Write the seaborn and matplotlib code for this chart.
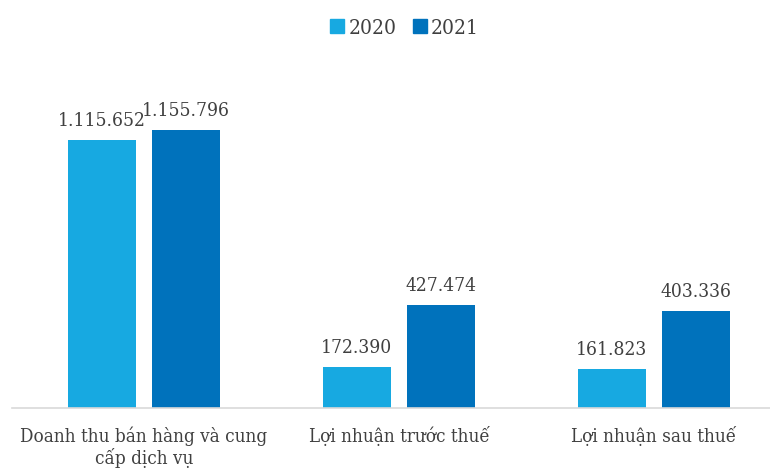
import matplotlib
matplotlib.use("Agg")
import matplotlib.pyplot as plt
import seaborn as sns
import pandas as pd

categories = ["Doanh thu bán hàng và cung\ncấp dịch vụ", "Lợi nhuận trước thuế", "Lợi nhuận sau thuế"]
years = ["2020", "2021"]
values_2020 = [1115652, 172390, 161823]
values_2021 = [1155796, 427474, 403336]

colors = {"2020": "#17A9E1", "2021": "#0072BC"}
text_color = "#404040"

sns.set_theme(style="white")
plt.rcParams["font.family"] = ["DejaVu Serif", "Liberation Serif"]
plt.rcParams["font.stretch"] = "condensed"

df = pd.DataFrame({
    "category": categories * 2,
    "year": [years[0]] * 3 + [years[1]] * 3,
    "value": values_2020 + values_2021,
})

W, H = 770, 468
fig = plt.figure(figsize=(W / 100, H / 100), dpi=100)
ax_left, ax_right, ax_top, ax_bottom = 12, 770, 50, 408
ax = fig.add_axes([ax_left / W, 1 - ax_bottom / H, (ax_right - ax_left) / W, (ax_bottom - ax_top) / H])

sns.barplot(data=df, x="category", y="value", hue="year", hue_order=years,
            palette=colors, width=0.66, gap=0.19, saturation=1, linewidth=0,
            ax=ax, legend=False, errorbar=None)

# scale: 255 px per category, first category centred at x=144
px = 255.0
ax.set_xlim((ax_left - 144) / px, (ax_right - 144) / px)
ax.set_ylim(0, max(values_2021) * (ax_bottom - ax_top) / 278.0)

def fmt(v):
    return f"{int(round(v)):,}".replace(",", ".")

for cont in ax.containers:
    ax.bar_label(cont, labels=[fmt(v) for v in cont.datavalues], padding=7,
                 fontsize=13.8, color=text_color, fontstretch="condensed")

for s in ["top", "right", "left"]:
    ax.spines[s].set_visible(False)
ax.spines["bottom"].set_color("#D9D9D9")
ax.spines["bottom"].set_linewidth(1.2)
ax.set_yticks([])
ax.set_xlabel("")
ax.set_ylabel("")
ax.tick_params(axis="x", length=0, pad=13, labelsize=13.5, labelcolor=text_color)
for lbl in ax.get_xticklabels():
    lbl.set_fontstretch("condensed")
    lbl.set_linespacing(1.15)

handles = [plt.Line2D([], [], marker="s", linestyle="", markersize=10,
                      markerfacecolor=colors[y], markeredgecolor=colors[y]) for y in years]
fig.legend(handles, years, loc="center", bbox_to_anchor=(403 / W, 1 - 28 / H), ncol=2,
           frameon=False, handletextpad=0.05, columnspacing=0.6, handlelength=1.0,
           prop={"size": 15, "stretch": "condensed"}, labelcolor=text_color)

fig.savefig("out.png", dpi=100)
